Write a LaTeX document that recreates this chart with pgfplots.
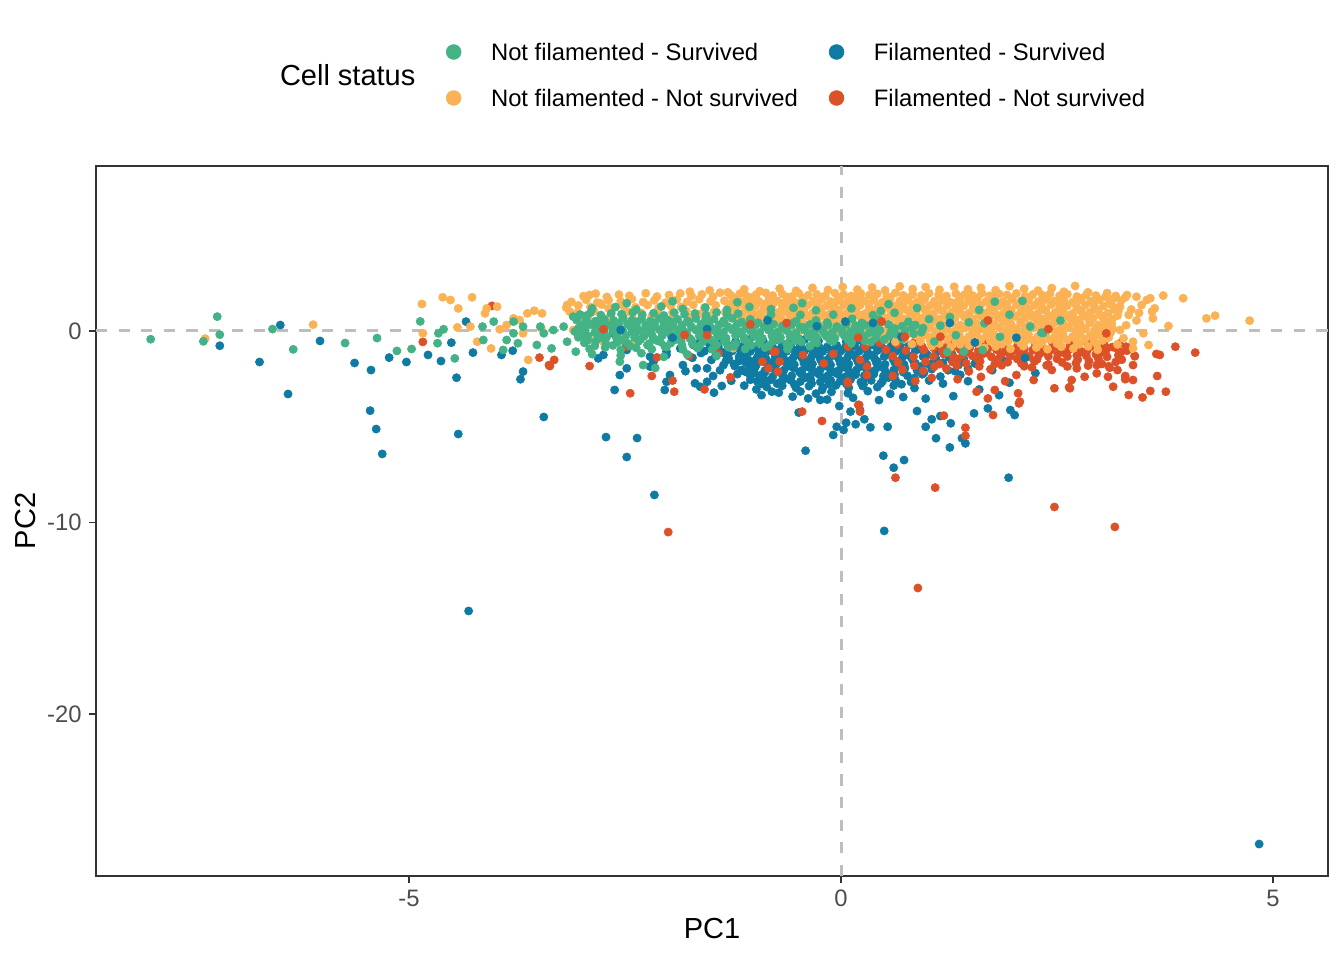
\documentclass[border=0pt]{standalone}
\usepackage{fontspec}
\setmainfont{Liberation Sans}
\usepackage{pgfplots}
\pgfplotsset{compat=1.18}
\definecolor{cgreen}{HTML}{43B284}
\definecolor{corange}{HTML}{FAB255}
\definecolor{cblue}{HTML}{0F7BA2}
\definecolor{cred}{HTML}{DD5129}
\definecolor{tickgray}{HTML}{4D4D4D}
\definecolor{framegray}{HTML}{333333}
\definecolor{dashgray}{HTML}{BEBEBE}
\pgfplotsset{
  dots/.style={only marks, mark=*, mark size=2.05bp, mark options={line width=0.3bp}, forget plot},
}
\begin{document}
\begin{tikzpicture}
\begin{axis}[
  name=ax,
  scale only axis, width=616bp, height=355bp,
  xmin=-8.623, xmax=5.637, ymin=-28.46, ymax=8.616,
  axis line style={framegray, line width=0.7bp},
  xtick={-5,0,5}, xticklabels={-5,0,5},
  ytick={-20,-10,0}, yticklabels={-20,-10,0},
  tick pos=left, tick align=outside, major tick length=3.6bp,
  tick style={framegray, line width=0.7bp},
  /pgf/number format/assume math mode=true,
  ticklabel style={font=\fontsize{11.9bp}{14bp}\selectfont, text=tickgray},
  xticklabel style={inner sep=0pt, anchor=north, yshift=-3.1bp},
  yticklabel style={inner sep=0pt, anchor=east, xshift=-3.4bp},
  xlabel={PC1}, ylabel={PC2},
  xlabel style={at={(axis description cs:0.5,-0.0746)}, anchor=center, inner sep=0pt, font=\fontsize{14.5bp}{17bp}\selectfont},
  ylabel style={at={(axis description cs:-0.0576,0.5)}, anchor=center, inner sep=0pt, font=\fontsize{14.5bp}{17bp}\selectfont},
  legend columns=2, transpose legend, legend cell align=left,
  legend image code/.code={\draw[#1] plot coordinates {(0bp,0bp)};},
  legend style={at={(axis description cs:0.2843,1.1728)}, anchor=north west, draw=none, fill=none,
    inner sep=0pt, outer sep=0pt, row sep=14.3bp, font=\fontsize{11.9bp}{14bp}\selectfont,
    nodes={inner sep=0pt, text height=8.7bp, text depth=0pt},
    /tikz/every odd column/.append style={column sep=15.0bp},
    /tikz/every even column/.append style={column sep=15.6bp}},
]
\addlegendimage{only marks, mark=*, mark size=3.7bp, mark options={line width=0.3bp}, color=cgreen}
\addlegendentry{Not filamented - Survived}
\addlegendimage{only marks, mark=*, mark size=3.7bp, mark options={line width=0.3bp}, color=corange}
\addlegendentry{Not filamented - Not survived}
\addlegendimage{only marks, mark=*, mark size=3.7bp, mark options={line width=0.3bp}, color=cblue}
\addlegendentry{Filamented - Survived}
\addlegendimage{only marks, mark=*, mark size=3.7bp, mark options={line width=0.3bp}, color=cred}
\addlegendentry{Filamented - Not survived}

% reference lines
\addplot[dashgray, line width=1.5bp, dash pattern=on 5.6bp off 5.7bp, forget plot] coordinates {(0,-28.46) (0,8.616)};
\addplot[dashgray, line width=1.5bp, dash pattern=on 5.6bp off 5.7bp, forget plot] coordinates {(-8.623,0) (5.637,0)};

% Filamented - Survived (main)
\addplot[dots, color=cblue] coordinates {
(-7.19,-0.77) (-6.49,0.31) (-6.73,-1.62) (-6.40,-3.29) (-6.03,-0.52) (-5.63,-1.67) (-5.44,-2.04) (-5.45,-4.16) (-5.38,-5.12) (-5.31,-6.42) (-5.23,-1.39) (-5.03,-1.62) (-4.78,-1.25) (-4.63,-1.57) (-4.51,-0.61) (-4.45,-2.44) (-4.34,0.49) (-4.26,-1.13) (-3.93,-1.25) (-3.80,-1.03) (-3.68,-2.12) (-3.71,-2.52) (-4.43,-5.38) (-3.44,-4.49) (-4.31,-14.62)
(-2.72,-5.54) (-2.36,-5.59) (-2.48,-6.58) (-2.16,-8.56) (-0.41,-6.25) (0.50,-10.44) (4.84,-26.79) (1.94,-7.66) (0.49,-6.51) (0.61,-7.14) (0.73,-6.74) (1.26,-6.08) (1.44,-5.87) (1.40,-5.60) (1.54,-4.30) (1.70,-4.04) (1.96,-4.13) (2.01,-4.39) (1.10,-5.60) (0.98,-5.00) (1.05,-4.61) (1.15,-4.44) (1.27,-4.82) (0.88,-4.18) (0.98,-3.53) (0.54,-5.00) (0.34,-5.03) (0.27,-4.61) (0.22,-4.13) (0.17,-4.87) (0.11,-4.21) (0.06,-4.79) (0.03,-5.17) (-0.02,-3.92) (-0.05,-5.00) (-0.09,-5.43) (-0.22,-3.08) (-0.24,-3.60) (-0.49,-4.26) (-0.56,-3.43)
(-2.62,-3.08) (-2.56,-2.30) (-2.81,-1.43) (-2.48,-1.95) (-2.21,-1.86) (-2.17,-1.60) (-2.02,-2.65) (-1.98,-2.30) (-1.83,-1.78) (-1.69,-2.73) (-1.67,-1.95) (-1.63,-2.91) (-1.55,-2.65) (-1.47,-3.22) (-1.38,-2.87) (-1.50,-1.51) (-1.32,-1.25) (-1.17,-0.82) (-1.11,-2.12) (-1.23,-1.83) (-0.90,-2.73) (-0.80,-3.17) (-0.94,-2.39) (-1.03,-1.60) (-2.62,0.14) (-2.48,-0.99) (-2.21,-1.34) (-2.02,-1.25) (-1.86,-0.91) (-1.67,-0.82) (-1.63,-0.56) (-1.52,-0.73) (-2.04,-3.08) (-2.64,-0.12) (-2.02,-1.08) (-1.71,-0.73) (-1.61,-0.47) (-1.48,-0.64) (-1.36,-1.78) (-2.75,-1.25)
(-1.62,-1.15) (-1.55,-1.95) (-1.48,-2.35) (-1.45,-1.30) (-1.40,-2.05) (-1.33,-1.55) (-1.27,-2.60) (-1.20,-2.25) (-1.15,-1.40) (-1.12,-2.85) (-1.05,-2.55) (-0.98,-3.05) (-1.00,-2.20) (-0.92,-3.35) (-1.58,-1.05) (-1.72,-1.40) (-1.80,-2.10)
(-1.38,-0.48) (-1.22,-0.55) (-1.06,-0.45) (-0.90,-0.52) (-0.74,-0.47) (-0.58,-0.56) (-0.42,-0.44) (-0.26,-0.53) (-0.10,-0.46) (0.06,-0.55) (0.22,-0.47) (0.38,-0.52) (0.55,-0.44) (0.72,-0.56) (0.90,-0.49)
(-1.42,-0.83) (-1.31,-0.76) (-1.21,-0.87) (-1.10,-0.78) (-1.00,-0.84) (-0.89,-0.73) (-0.79,-0.86) (-0.68,-0.77) (-0.58,-0.82) (-0.47,-0.74) (-0.37,-0.87) (-0.26,-0.78) (-0.16,-0.83) (-0.05,-0.75) (0.05,-0.86) (0.16,-0.77) (0.26,-0.84) (0.37,-0.73) (0.47,-0.85) (0.58,-0.79) (0.68,-0.83) (0.79,-0.74) (0.92,-0.87) (1.06,-0.78)
(-1.30,-0.97) (-1.10,-0.95) (-0.90,-0.99) (-0.70,-0.94) (-0.50,-0.98) (-0.30,-0.95) (-0.10,-0.99) (0.10,-0.94) (0.30,-0.98) (0.50,-0.95) (0.70,-0.99) (0.92,-0.95)
(-1.37,-1.12) (-1.26,-1.05) (-1.16,-1.16) (-1.05,-1.07) (-0.95,-1.13) (-0.84,-1.02) (-0.74,-1.15) (-0.63,-1.06) (-0.53,-1.11) (-0.42,-1.03) (-0.32,-1.16) (-0.21,-1.07) (-0.11,-1.12) (0.00,-1.04) (0.10,-1.15) (0.21,-1.06) (0.31,-1.13) (0.42,-1.02) (0.52,-1.14) (0.63,-1.08) (0.73,-1.12) (0.86,-1.03) (0.98,-1.16) (1.12,-1.07) (1.28,-1.14)
(-1.12,-1.25) (-0.90,-1.28) (-0.69,-1.22) (-0.48,-1.27) (-0.27,-1.23) (-0.06,-1.29) (0.15,-1.24) (0.36,-1.28) (0.57,-1.22) (0.78,-1.27) (1.00,-1.25)
(-1.30,-1.43) (-1.18,-1.36) (-1.08,-1.47) (-0.97,-1.38) (-0.87,-1.44) (-0.76,-1.33) (-0.66,-1.46) (-0.55,-1.37) (-0.45,-1.42) (-0.34,-1.34) (-0.24,-1.47) (-0.13,-1.38) (-0.03,-1.43) (0.08,-1.35) (0.18,-1.46) (0.29,-1.37) (0.39,-1.44) (0.50,-1.33) (0.60,-1.45) (0.71,-1.39) (0.82,-1.42) (0.95,-1.34) (1.10,-1.47) (1.25,-1.38) (1.42,-1.44)
(-1.18,-1.57) (-0.98,-1.55) (-0.78,-1.59) (-0.58,-1.54) (-0.38,-1.58) (-0.18,-1.55) (0.02,-1.59) (0.22,-1.54) (0.42,-1.58) (0.62,-1.55) (0.84,-1.59) (1.08,-1.56)
(-1.24,-1.72) (-1.10,-1.66) (-0.98,-1.77) (-0.86,-1.68) (-0.75,-1.74) (-0.64,-1.63) (-0.54,-1.76) (-0.43,-1.67) (-0.33,-1.72) (-0.22,-1.64) (-0.12,-1.77) (-0.01,-1.68) (0.09,-1.73) (0.20,-1.65) (0.30,-1.76) (0.41,-1.67) (0.51,-1.74) (0.62,-1.63) (0.73,-1.75) (0.86,-1.69) (1.01,-1.72) (1.18,-1.66) (1.36,-1.78) (1.55,-1.70)
(-1.05,-1.85) (-0.82,-1.88) (-0.60,-1.83) (-0.39,-1.87) (-0.18,-1.82) (0.03,-1.88) (0.24,-1.84) (0.45,-1.87) (0.67,-1.82) (0.92,-1.86)
(-1.15,-2.03) (-1.00,-1.96) (-0.88,-2.07) (-0.77,-1.98) (-0.66,-2.04) (-0.55,-1.93) (-0.45,-2.06) (-0.34,-1.97) (-0.24,-2.02) (-0.13,-1.94) (-0.03,-2.07) (0.08,-1.98) (0.18,-2.03) (0.29,-1.95) (0.39,-2.06) (0.50,-1.97) (0.61,-2.04) (0.74,-1.94) (0.88,-2.06) (1.05,-1.99) (1.24,-2.05) (1.47,-1.97)
(-1.08,-2.17) (-0.88,-2.15) (-0.68,-2.19) (-0.48,-2.14) (-0.28,-2.18) (-0.08,-2.15) (0.12,-2.19) (0.32,-2.14) (0.52,-2.18) (0.72,-2.15) (0.96,-2.19)
(-1.05,-2.32) (-0.91,-2.26) (-0.79,-2.37) (-0.68,-2.28) (-0.57,-2.34) (-0.46,-2.23) (-0.36,-2.36) (-0.25,-2.27) (-0.15,-2.32) (-0.04,-2.24) (0.06,-2.37) (0.17,-2.28) (0.27,-2.33) (0.38,-2.25) (0.49,-2.36) (0.62,-2.27) (0.77,-2.34) (0.94,-2.26) (1.15,-2.38) (1.38,-2.29)
(-0.90,-2.45) (-0.64,-2.48) (-0.41,-2.43) (-0.19,-2.47) (0.04,-2.44) (0.28,-2.48) (0.55,-2.43) (0.85,-2.46)
(-0.97,-2.63) (-0.82,-2.56) (-0.70,-2.67) (-0.58,-2.58) (-0.47,-2.64) (-0.35,-2.53) (-0.24,-2.66) (-0.12,-2.57) (-0.01,-2.62) (0.11,-2.54) (0.23,-2.67) (0.35,-2.58) (0.48,-2.63) (0.63,-2.55) (0.81,-2.66) (1.02,-2.59)
(-0.92,-2.77) (-0.74,-2.75) (-0.54,-2.79) (-0.34,-2.74) (-0.14,-2.78) (0.06,-2.75) (0.26,-2.79) (0.46,-2.74) (0.70,-2.78)
(-0.86,-2.92) (-0.68,-2.86) (-0.52,-2.97) (-0.37,-2.88) (-0.21,-2.95) (-0.06,-2.84) (0.09,-2.96) (0.25,-2.87) (0.42,-2.93) (0.61,-2.85) (0.85,-2.98)
(-0.72,-3.22) (-0.47,-3.16) (-0.29,-3.27) (-0.11,-3.18) (0.08,-3.25) (0.31,-3.14) (0.57,-3.28)
(-0.38,-3.52) (-0.16,-3.58) (0.14,-3.49) (0.44,-3.61) (0.72,-3.45)
(1.18,-2.75) (1.32,-2.10) (1.47,-2.62) (1.60,-1.35) (1.75,-2.05) (1.88,-1.55) (1.60,-3.05) (1.83,-3.35) (1.30,-3.40) (2.12,-1.80) (1.25,-0.85) (1.45,-1.05) (1.95,-2.70) (2.25,-2.20)
};

% Filamented - Not survived (main)
\addplot[dots, color=cred] coordinates {
(-4.84,-0.57) (-4.04,1.31) (-3.38,-1.78) (-3.49,-1.39) (-3.32,-1.51) (-3.37,-1.83) (-2.91,-1.83) (-2.44,-3.25) (-2.19,-2.35) (-1.93,-3.17) (-1.95,-2.59) (-1.58,-3.05) (-1.28,-2.42) (-2.49,-0.82) (-2.00,-10.50) (-0.45,-4.21) (-0.22,-4.70) (0.21,-3.86) (0.63,-7.66) (1.09,-8.18) (0.89,-13.42) (2.47,-9.19) (3.17,-10.23) (1.19,-4.42) (1.44,-5.05) (1.44,-5.47) (0.86,-2.61) (1.76,-4.39) (1.70,-3.52) (1.78,-3.08) (1.57,-3.17) (2.07,-3.69) (2.05,-3.25)
(-2.13,-1.38) (-1.76,-1.31) (-1.42,-1.17) (-0.84,-1.95) (-0.73,-2.12) (-0.76,-1.08) (-0.09,-1.20) (0.08,-2.65) (-0.71,-1.60) (-0.91,-1.60) (-0.78,-1.08) (0.08,-0.82) (0.08,-2.73) (0.28,-0.82) (-0.20,-1.69) (0.22,-1.51) (0.30,-1.86) (0.30,-2.30) (0.20,-3.86) (0.22,-4.21) (-0.44,-1.25)
(0.45,-0.62) (0.65,-0.70) (0.85,-0.58) (1.05,-0.68) (1.25,-0.60) (1.45,-0.72) (1.65,-0.63) (1.85,-0.70) (2.05,-0.60) (2.25,-0.73) (2.45,-0.64) (2.65,-0.71) (2.85,-0.62) (3.05,-0.74) (3.22,-0.66)
(0.94,-0.82) (1.16,-0.80) (1.38,-0.84) (1.60,-0.79) (1.82,-0.83) (2.04,-0.80) (2.26,-0.84) (2.48,-0.79) (2.70,-0.83) (2.92,-0.80) (3.14,-0.84)
(0.52,-0.98) (0.75,-1.02) (0.96,-0.99) (1.07,-0.88) (1.17,-1.01) (1.28,-0.92) (1.38,-0.97) (1.49,-0.89) (1.59,-1.02) (1.70,-0.93) (1.80,-0.98) (1.91,-0.90) (2.01,-1.01) (2.12,-0.92) (2.22,-0.99) (2.33,-0.88) (2.43,-1.00) (2.54,-0.94) (2.64,-0.97) (2.75,-0.89) (2.85,-1.02) (2.96,-0.93) (3.07,-0.99) (3.19,-0.91) (3.31,-1.03)
(1.24,-1.12) (1.46,-1.10) (1.68,-1.14) (1.90,-1.08) (2.12,-1.13) (2.35,-1.09) (2.57,-1.12) (2.79,-1.10) (3.01,-1.13) (3.24,-1.10)
(0.60,-1.31) (0.84,-1.35) (1.07,-1.32) (1.19,-1.21) (1.30,-1.34) (1.41,-1.25) (1.52,-1.30) (1.63,-1.22) (1.74,-1.35) (1.85,-1.26) (1.96,-1.31) (2.07,-1.23) (2.18,-1.34) (2.29,-1.25) (2.40,-1.32) (2.51,-1.21) (2.62,-1.33) (2.73,-1.27) (2.84,-1.30) (2.95,-1.22) (3.08,-1.35) (3.21,-1.27) (3.40,-1.31)
(1.35,-1.47) (1.58,-1.45) (1.81,-1.49) (2.04,-1.46) (2.27,-1.48) (2.50,-1.45) (2.74,-1.49) (2.98,-1.46) (3.25,-1.50)
(0.66,-1.64) (0.98,-1.60) (1.14,-1.73) (1.29,-1.62) (1.45,-1.69) (1.61,-1.58) (1.78,-1.72) (1.93,-1.63) (2.09,-1.70) (2.24,-1.59) (2.40,-1.74) (2.56,-1.64) (2.72,-1.68) (2.87,-1.57) (3.02,-1.72) (3.18,-1.62) (3.38,-1.78)
(0.85,-1.82) (1.08,-1.86) (1.34,-1.80) (1.60,-1.85) (1.86,-1.79) (2.12,-1.84) (2.38,-1.80) (2.62,-1.85) (2.86,-1.81) (3.10,-1.84)
(0.71,-2.02) (0.95,-2.08) (1.22,-1.96) (1.48,-2.11) (1.73,-2.00) (2.21,-1.90) (2.44,-2.04) (2.73,-1.95) (2.96,-1.78) (3.20,-2.04) (2.03,-2.30) (2.23,-2.56)
(0.60,-2.35) (1.05,-2.45) (1.35,-2.52) (1.62,-2.40) (1.90,-2.62) (2.82,-2.39) (2.67,-2.56) (2.96,-2.21) (3.09,-2.39) (3.29,-2.35) (3.38,-2.56) (3.66,-2.35)
(2.64,-2.94) (2.47,-2.99) (3.15,-2.91) (3.33,-3.34) (3.49,-3.47) (3.58,-3.13) (3.76,-3.17) (2.06,-3.78) (3.87,-0.82) (4.10,-1.13) (3.65,-1.20) (3.30,-0.82) (3.40,-1.31) (3.69,-1.25) (3.29,-2.52) (3.11,-1.92) (2.65,-2.99)
};

% Not filamented - Not survived
\addplot[dots, color=corange] coordinates {
(-7.36,-0.40) (-6.11,0.33) (-4.85,1.41) (-4.61,1.76) (-4.52,1.62) (-4.43,1.18) (-4.27,1.76) (-4.84,-0.12) (-4.44,0.19) (-4.29,0.23) (-4.21,-0.56) (-4.05,-0.91) (-4.12,0.92) (-4.10,1.18) (-3.98,1.27) (-3.95,0.09) (-3.87,0.31) (-3.79,0.66) (-3.72,0.57) (-3.63,0.92) (-3.55,1.06) (-3.46,0.92) (-3.62,-1.51) (-3.68,-0.12) (-3.17,1.36) (-3.14,1.01) (-3.10,0.05) (-2.91,1.88) (-3.00,0.75) (-2.79,1.45) (-2.69,1.18) (-2.75,-0.56)
(-2.98,1.82) (-2.84,1.95) (-2.71,1.78) (-2.57,1.90) (-2.45,1.84) (-2.26,1.97) (-2.13,1.80) (-1.99,1.88) (-1.86,1.96) (-1.73,1.83) (-1.61,1.91) (-1.48,1.79) (-1.40,2.00)
(-3.12,1.52) (-2.95,1.63) (-2.82,1.49) (-2.69,1.61) (-2.55,1.55) (-2.42,1.67) (-2.29,1.51) (-2.16,1.60) (-2.03,1.48) (-1.90,1.64) (-1.78,1.53) (-1.64,1.66) (-1.51,1.55)
(-3.18,1.22) (-3.04,1.33) (-2.90,1.25) (-2.77,1.38) (-2.64,1.21) (-2.52,1.31) (-2.38,1.24) (-2.24,1.36) (-2.11,1.20) (-1.97,1.32) (-1.85,1.26) (-1.71,1.37) (-1.58,1.23) (-1.45,1.34)
(-3.05,0.95) (-2.86,1.04) (-2.66,0.92) (-2.47,1.01) (-2.31,0.94) (-2.12,1.06) (-1.95,0.97) (-1.79,1.03) (-1.62,0.91) (-1.47,1.02)
(-2.93,0.66) (-2.68,0.72) (-2.41,0.62) (-2.19,0.75) (-1.96,0.64) (-1.72,0.71) (-1.52,0.60)
(-2.58,0.25) (-2.21,0.08) (-1.88,-0.15) (-1.62,0.31) (-1.25,-0.90) (-1.05,0.05) (-2.83,-0.35) (-2.40,-0.62) (-3.47,0.15)
(-1.75,2.05) (-1.52,2.12) (-1.31,2.02) (-1.12,2.18) (-0.94,2.08) (-0.71,2.21) (-0.52,2.10) (-0.33,2.25) (-0.15,2.14) (0.02,2.30) (0.19,2.16) (0.36,2.27) (0.51,2.12) (0.68,2.33) (0.83,2.19) (0.98,2.29) (1.14,2.15) (1.31,2.31) (1.47,2.18) (1.62,2.26) (1.79,2.13) (1.95,2.34) (2.12,2.20) (2.28,2.11) (2.44,2.24) (2.71,2.35) (2.58,2.05) (2.86,2.02) (3.08,1.98)
(-1.28,1.88) (-1.17,1.95) (-1.09,1.82) (-0.98,1.91) (-0.87,1.99) (-0.79,1.85) (-0.68,1.93) (-0.57,1.80) (-0.49,1.97) (-0.38,1.87) (-0.28,1.92) (-0.18,1.84) (-0.07,1.98) (0.03,1.90) (0.12,1.83) (0.23,1.96) (0.33,1.88) (0.42,1.94) (0.53,1.81) (0.63,1.99) (0.72,1.86) (0.83,1.92) (0.93,1.85) (1.02,1.97) (1.13,1.89) (1.22,1.83) (1.33,1.95) (1.43,1.90) (1.52,1.86) (1.63,1.98) (1.72,1.84) (1.83,1.93) (1.92,1.88) (2.03,1.96) (2.13,1.82) (2.22,1.91) (2.33,1.87) (2.42,1.95) (2.53,1.84) (2.62,1.92) (2.73,1.80) (2.84,1.89) (2.95,1.85) (3.06,1.78) (3.18,1.83) (3.29,1.75)
(-1.22,1.74) (-1.02,1.77) (-0.83,1.73) (-0.62,1.78) (-0.43,1.72) (-0.22,1.76) (-0.03,1.74) (0.18,1.78) (0.38,1.72) (0.57,1.77) (0.78,1.73) (0.97,1.76) (1.18,1.71) (1.37,1.78) (1.58,1.74) (1.77,1.76) (1.98,1.72) (2.18,1.77) (2.37,1.73) (2.58,1.76) (2.78,1.71) (2.97,1.68)
(-1.35,1.58) (-1.24,1.66) (-1.15,1.52) (-1.04,1.63) (-0.95,1.55) (-0.83,1.68) (-0.74,1.57) (-0.62,1.62) (-0.53,1.50) (-0.44,1.65) (-0.32,1.56) (-0.22,1.69) (-0.12,1.54) (-0.02,1.61) (0.08,1.52) (0.18,1.67) (0.27,1.58) (0.38,1.63) (0.48,1.51) (0.57,1.66) (0.68,1.57) (0.77,1.62) (0.88,1.53) (0.97,1.68) (1.08,1.56) (1.18,1.61) (1.27,1.50) (1.38,1.65) (1.48,1.58) (1.57,1.69) (1.68,1.55) (1.78,1.62) (1.87,1.52) (1.98,1.66) (2.08,1.57) (2.17,1.63) (2.28,1.53) (2.38,1.67) (2.47,1.56) (2.58,1.61) (2.68,1.51) (2.78,1.64) (2.89,1.55) (2.99,1.62) (3.11,1.50) (3.24,1.58)
(-1.28,1.43) (-1.07,1.46) (-0.88,1.42) (-0.67,1.47) (-0.48,1.41) (-0.27,1.45) (-0.08,1.43) (0.13,1.47) (0.32,1.41) (0.53,1.46) (0.72,1.42) (0.93,1.45) (1.12,1.40) (1.33,1.47) (1.52,1.43) (1.73,1.45) (1.92,1.41) (2.13,1.46) (2.32,1.42) (2.53,1.45) (2.72,1.40) (2.93,1.44) (3.13,1.38)
(-1.30,1.28) (-1.19,1.35) (-1.10,1.22) (-0.99,1.31) (-0.89,1.25) (-0.79,1.38) (-0.68,1.27) (-0.59,1.33) (-0.48,1.21) (-0.38,1.36) (-0.28,1.26) (-0.17,1.32) (-0.08,1.24) (0.03,1.37) (0.13,1.27) (0.22,1.34) (0.33,1.22) (0.43,1.36) (0.52,1.28) (0.63,1.31) (0.72,1.23) (0.83,1.38) (0.92,1.26) (1.03,1.33) (1.12,1.21) (1.23,1.35) (1.33,1.27) (1.42,1.32) (1.53,1.24) (1.62,1.37) (1.73,1.26) (1.83,1.31) (1.92,1.22) (2.03,1.36) (2.12,1.28) (2.23,1.33) (2.32,1.23) (2.43,1.37) (2.53,1.27) (2.62,1.32) (2.73,1.21) (2.83,1.35) (2.93,1.26) (3.04,1.30) (3.16,1.24)
(-1.24,1.11) (-1.03,1.14) (-0.84,1.10) (-0.63,1.15) (-0.44,1.09) (-0.23,1.13) (-0.04,1.11) (0.17,1.15) (0.36,1.09) (0.57,1.14) (0.76,1.10) (0.97,1.13) (1.16,1.08) (1.37,1.15) (1.56,1.11) (1.77,1.13) (1.96,1.09) (2.17,1.14) (2.36,1.10) (2.57,1.13) (2.76,1.08) (2.97,1.12) (3.17,1.10)
(-1.34,0.98) (-1.25,1.05) (-1.14,0.93) (-1.05,1.02) (-0.93,0.96) (-0.84,1.08) (-0.73,0.97) (-0.64,1.03) (-0.53,0.91) (-0.43,1.06) (-0.33,0.95) (-0.23,1.02) (-0.12,0.93) (-0.03,1.07) (0.07,0.97) (0.17,1.04) (0.28,0.92) (0.37,1.06) (0.47,0.98) (0.58,1.01) (0.67,0.93) (0.78,1.08) (0.87,0.96) (0.98,1.03) (1.07,0.91) (1.18,1.05) (1.28,0.97) (1.37,1.02) (1.48,0.94) (1.57,1.07) (1.68,0.96) (1.77,1.01) (1.88,0.92) (1.97,1.06) (2.08,0.98) (2.17,1.03) (2.28,0.93) (2.37,1.07) (2.48,0.97) (2.57,1.02) (2.68,0.91) (2.78,1.05) (2.88,0.96) (2.98,1.00) (3.09,0.94) (3.21,1.03)
(-1.20,0.81) (-0.99,0.84) (-0.80,0.80) (-0.59,0.85) (-0.40,0.79) (-0.19,0.83) (0.00,0.81) (0.21,0.85) (0.40,0.79) (0.61,0.84) (0.80,0.80) (1.01,0.83) (1.20,0.78) (1.41,0.85) (1.60,0.81) (1.81,0.83) (2.00,0.79) (2.21,0.84) (2.40,0.80) (2.61,0.83) (2.80,0.78) (3.01,0.82) (3.20,0.80)
(-1.29,0.68) (-1.18,0.74) (-1.09,0.62) (-0.98,0.71) (-0.88,0.65) (-0.78,0.78) (-0.69,0.66) (-0.58,0.73) (-0.47,0.61) (-0.37,0.76) (-0.27,0.66) (-0.18,0.72) (-0.07,0.63) (0.02,0.77) (0.12,0.67) (0.23,0.74) (0.32,0.62) (0.42,0.76) (0.53,0.68) (0.62,0.71) (0.73,0.63) (0.82,0.78) (0.93,0.66) (1.02,0.73) (1.13,0.61) (1.22,0.75) (1.32,0.67) (1.43,0.72) (1.52,0.64) (1.63,0.77) (1.72,0.66) (1.82,0.71) (1.93,0.62) (2.02,0.76) (2.13,0.68) (2.22,0.73) (2.33,0.63) (2.42,0.77) (2.52,0.67) (2.63,0.72) (2.72,0.61) (2.83,0.75) (2.92,0.66) (3.03,0.70) (3.14,0.62)
(-1.12,0.51) (-0.91,0.54) (-0.72,0.50) (-0.51,0.55) (-0.32,0.49) (-0.11,0.53) (0.08,0.51) (0.29,0.55) (0.48,0.49) (0.69,0.54) (0.88,0.50) (1.09,0.53) (1.28,0.48) (1.49,0.55) (1.68,0.51) (1.89,0.53) (2.08,0.49) (2.29,0.54) (2.48,0.50) (2.69,0.53) (2.88,0.48) (3.06,0.52)
(-1.02,0.38) (-0.92,0.44) (-0.83,0.32) (-0.72,0.41) (-0.63,0.35) (-0.52,0.48) (-0.42,0.36) (-0.33,0.43) (-0.22,0.31) (-0.13,0.46) (-0.02,0.36) (0.08,0.42) (0.17,0.33) (0.28,0.47) (0.38,0.37) (0.47,0.44) (0.58,0.32) (0.67,0.46) (0.78,0.38) (0.87,0.41) (0.98,0.33) (1.08,0.48) (1.17,0.36) (1.28,0.43) (1.38,0.31) (1.47,0.45) (1.58,0.37) (1.67,0.42) (1.78,0.34) (1.88,0.47) (1.97,0.36) (2.08,0.41) (2.18,0.32) (2.27,0.46) (2.38,0.38) (2.47,0.43) (2.58,0.33) (2.68,0.47) (2.77,0.37) (2.88,0.42) (2.98,0.31) (3.09,0.44)
(-0.85,0.21) (-0.64,0.24) (-0.45,0.20) (-0.24,0.25) (-0.05,0.19) (0.16,0.23) (0.35,0.21) (0.56,0.25) (0.75,0.19) (0.96,0.24) (1.15,0.20) (1.36,0.23) (1.55,0.18) (1.76,0.25) (1.95,0.21) (2.16,0.23) (2.35,0.19) (2.56,0.24) (2.75,0.20) (2.96,0.23) (3.14,0.18)
(-0.68,0.08) (-0.58,0.14) (-0.47,0.02) (-0.38,0.11) (-0.27,0.05) (-0.18,0.18) (-0.08,0.06) (0.03,0.13) (0.12,0.01) (0.23,0.16) (0.32,0.06) (0.43,0.12) (0.52,0.03) (0.63,0.17) (0.72,0.07) (0.83,0.11) (0.92,0.02) (1.03,0.16) (1.12,0.06) (1.23,0.13) (1.32,0.01) (1.43,0.15) (1.52,0.07) (1.63,0.12) (1.72,0.04) (1.83,0.17) (1.92,0.06) (2.03,0.11) (2.12,0.02) (2.23,0.16) (2.32,0.08) (2.43,0.13) (2.52,0.03) (2.63,0.17) (2.72,0.07) (2.83,0.12) (2.93,0.01) (3.04,0.14)
(-0.50,-0.07) (-0.28,-0.05) (-0.06,-0.09) (0.14,-0.05) (0.34,-0.10) (0.54,-0.06) (0.74,-0.08) (0.94,-0.04) (1.14,-0.10) (1.34,-0.05) (1.54,-0.09) (1.74,-0.06) (1.94,-0.11) (2.14,-0.04) (2.34,-0.08) (2.54,-0.05) (2.74,-0.10) (2.94,-0.06) (3.12,-0.09)
(-0.32,-0.22) (-0.13,-0.16) (0.07,-0.28) (0.17,-0.19) (0.27,-0.25) (0.38,-0.12) (0.47,-0.24) (0.58,-0.17) (0.67,-0.29) (0.78,-0.14) (0.87,-0.24) (0.98,-0.18) (1.07,-0.27) (1.18,-0.13) (1.28,-0.23) (1.37,-0.17) (1.48,-0.28) (1.57,-0.15) (1.68,-0.24) (1.77,-0.19) (1.88,-0.26) (1.97,-0.13) (2.08,-0.24) (2.17,-0.18) (2.28,-0.27) (2.37,-0.14) (2.48,-0.23) (2.57,-0.17) (2.68,-0.29) (2.77,-0.15) (2.88,-0.24) (2.98,-0.18) (3.08,-0.21)
(0.12,-0.37) (0.32,-0.34) (0.52,-0.38) (0.72,-0.35) (0.92,-0.39) (1.12,-0.33) (1.32,-0.37) (1.52,-0.34) (1.72,-0.39) (1.92,-0.35) (2.12,-0.37) (2.32,-0.33) (2.52,-0.38) (2.72,-0.35) (2.92,-0.39) (3.10,-0.34)
(0.32,-0.52) (0.52,-0.46) (0.63,-0.57) (0.73,-0.44) (0.92,-0.55) (1.03,-0.48) (1.12,-0.59) (1.23,-0.45) (1.33,-0.54) (1.42,-0.47) (1.53,-0.58) (1.62,-0.44) (1.73,-0.53) (1.82,-0.49) (1.93,-0.57) (2.02,-0.43) (2.13,-0.54) (2.22,-0.48) (2.33,-0.59) (2.42,-0.45) (2.53,-0.53) (2.62,-0.47) (2.73,-0.56) (2.82,-0.44) (2.93,-0.55) (3.03,-0.49)
(0.82,-0.68) (1.14,-0.65) (1.38,-0.70) (1.58,-0.66) (1.86,-0.69) (2.08,-0.64) (2.30,-0.70) (2.50,-0.66) (2.76,-0.69) (2.96,-0.67)
(1.05,-0.78) (1.27,-0.84) (1.48,-0.76) (1.66,-0.88) (1.79,-0.81) (1.96,-0.93) (2.11,-0.79) (2.26,-0.86) (2.39,-0.95) (2.55,-0.82) (2.69,-0.91) (2.86,-0.80) (2.97,-0.98)
(3.31,1.88) (3.42,1.79) (3.58,1.71) (3.54,1.62) (3.73,1.85) (3.96,1.71) (3.48,1.36) (3.63,1.18) (3.23,1.27) (3.36,1.12) (3.60,1.01) (3.33,0.84) (3.42,0.55) (3.61,0.66) (3.13,0.40) (3.23,0.05) (3.27,-0.38) (3.50,-0.12) (3.56,-0.73) (3.38,-0.56) (3.38,-0.91) (3.79,0.26) (4.23,0.66) (4.33,0.80) (4.73,0.54) (3.20,-0.70) (3.15,1.68) (3.45,0.95) (3.30,0.30)
};

% Not filamented - Survived
\addplot[dots, color=cgreen] coordinates {
(-7.99,-0.43) (-7.38,-0.54) (-7.22,0.75) (-7.19,-0.19) (-6.58,0.10) (-6.34,-0.96) (-5.74,-0.63) (-5.37,-0.37) (-5.14,-1.04) (-4.97,-0.94) (-4.87,0.50) (-4.66,-0.12) (-4.67,-0.64) (-4.47,-1.43) (-4.60,0.09) (-4.15,0.23) (-4.14,-0.47) (-4.02,0.49) (-3.87,-0.47) (-3.79,-0.12) (-3.74,-0.64) (-3.79,0.49) (-3.91,-0.99) (-3.68,0.23) (-3.48,0.23) (-3.44,-0.12) (-3.52,-0.73) (-3.35,-0.91) (-3.33,0.05) (-3.21,0.23) (-3.17,-0.56) (-3.10,0.75) (-3.07,-1.08) (-3.00,-0.30) (-2.95,0.80)
(-2.88,1.18) (-2.61,1.25) (-2.37,1.12) (-2.08,1.28) (-1.83,1.15) (-1.57,1.22) (-1.32,1.10) (-1.06,1.26) (-0.81,1.14) (-0.55,1.21) (-0.29,1.08) (0.12,1.18) (0.46,1.05)
(-3.02,0.86) (-2.90,0.95) (-2.78,0.83) (-2.66,0.92) (-2.54,0.88) (-2.41,0.97) (-2.30,0.84) (-2.17,0.93) (-2.05,0.81) (-1.93,0.96) (-1.81,0.87) (-1.69,0.92) (-1.56,0.83) (-1.44,0.97) (-1.32,0.86) (-1.19,0.91) (-0.81,0.86) (-0.47,0.84) (-0.09,0.85) (0.37,0.83)
(-3.06,0.57) (-2.95,0.64) (-2.84,0.52) (-2.74,0.61) (-2.63,0.55) (-2.52,0.67) (-2.42,0.56) (-2.31,0.62) (-2.21,0.51) (-2.10,0.66) (-2.00,0.55) (-1.89,0.61) (-1.78,0.52) (-1.68,0.65) (-1.57,0.57) (-1.47,0.62) (-1.36,0.53) (-1.26,0.66) (-1.05,0.61) (-0.84,0.65) (-0.52,0.51) (-0.29,0.55) (0.13,0.64) (0.44,0.61)
(-2.96,0.44) (-2.76,0.47) (-2.57,0.43) (-2.36,0.48) (-2.16,0.42) (-1.95,0.46) (-1.76,0.44) (-1.55,0.48) (-1.36,0.42) (-1.15,0.47) (-0.96,0.43) (-0.56,0.41) (-0.16,0.44) (0.24,0.42)
(-3.01,0.27) (-2.90,0.34) (-2.79,0.22) (-2.69,0.31) (-2.58,0.25) (-2.47,0.37) (-2.37,0.26) (-2.26,0.32) (-2.15,0.21) (-2.05,0.36) (-1.94,0.25) (-1.84,0.31) (-1.73,0.22) (-1.62,0.35) (-1.52,0.27) (-1.41,0.32) (-1.31,0.23) (-1.20,0.36) (-1.10,0.26) (-0.99,0.31) (-0.89,0.22) (-0.78,0.35) (-0.68,0.26) (-0.57,0.32) (-0.47,0.21) (-0.36,0.34) (-0.26,0.25) (-0.15,0.32) (-0.05,0.23) (0.06,0.35) (0.17,0.26) (0.28,0.31) (0.41,0.22) (0.55,0.34) (0.71,0.25) (0.86,0.31)
(-3.04,0.14) (-2.84,0.17) (-2.64,0.13) (-2.43,0.18) (-2.24,0.12) (-2.03,0.16) (-1.84,0.14) (-1.63,0.18) (-1.44,0.12) (-1.23,0.17) (-1.04,0.13) (-0.83,0.16) (-0.64,0.11) (-0.43,0.18) (-0.24,0.14) (-0.03,0.16) (0.16,0.12) (0.37,0.17) (0.62,0.13) (0.82,0.16)
(-3.08,-0.03) (-2.96,0.04) (-2.85,-0.08) (-2.74,0.01) (-2.63,-0.05) (-2.53,0.07) (-2.42,-0.04) (-2.32,0.02) (-2.21,-0.09) (-2.10,0.06) (-2.00,-0.05) (-1.89,0.01) (-1.79,-0.08) (-1.68,0.05) (-1.58,-0.03) (-1.47,0.02) (-1.36,-0.07) (-1.26,0.06) (-1.15,-0.04) (-1.05,0.01) (-0.94,-0.08) (-0.84,0.05) (-0.73,-0.04) (-0.63,0.02) (-0.52,-0.09) (-0.42,0.04) (-0.31,-0.05) (-0.21,0.02) (-0.10,-0.07) (0.01,0.05) (0.11,-0.04) (0.22,0.01) (0.33,-0.08) (0.45,0.04) (0.58,-0.05) (0.74,0.02) (0.93,-0.06)
(-2.99,-0.16) (-2.79,-0.13) (-2.59,-0.17) (-2.38,-0.12) (-2.19,-0.18) (-1.98,-0.14) (-1.79,-0.16) (-1.58,-0.12) (-1.39,-0.18) (-1.18,-0.13) (-0.99,-0.17) (-0.78,-0.14) (-0.59,-0.19) (-0.38,-0.12) (-0.19,-0.16) (0.02,-0.14) (0.21,-0.18) (0.42,-0.13) (0.64,-0.17)
(-3.04,-0.33) (-2.93,-0.26) (-2.81,-0.38) (-2.71,-0.29) (-2.60,-0.35) (-2.49,-0.23) (-2.39,-0.34) (-2.28,-0.28) (-2.17,-0.39) (-2.07,-0.24) (-1.96,-0.35) (-1.86,-0.29) (-1.75,-0.38) (-1.64,-0.25) (-1.54,-0.33) (-1.43,-0.28) (-1.33,-0.37) (-1.22,-0.24) (-1.12,-0.34) (-1.01,-0.29) (-0.91,-0.38) (-0.80,-0.25) (-0.70,-0.34) (-0.59,-0.28) (-0.49,-0.39) (-0.38,-0.26) (-0.28,-0.35) (-0.17,-0.28) (-0.07,-0.37) (0.04,-0.25) (0.15,-0.34) (0.27,-0.29) (0.40,-0.37) (0.56,-0.26) (0.72,-0.33)
(-2.93,-0.48) (-2.73,-0.45) (-2.53,-0.49) (-2.32,-0.44) (-2.13,-0.50) (-1.92,-0.46) (-1.73,-0.48) (-1.52,-0.44) (-1.33,-0.50) (-1.12,-0.45) (-0.93,-0.49) (-0.72,-0.46) (-0.53,-0.51) (-0.32,-0.44) (-0.13,-0.48) (0.08,-0.46) (0.27,-0.50) (0.50,-0.45)
(-2.97,-0.62) (-2.84,-0.55) (-2.72,-0.67) (-2.59,-0.58) (-2.47,-0.64) (-2.34,-0.53) (-2.22,-0.66) (-2.09,-0.57) (-1.97,-0.63) (-1.85,-0.54) (-1.72,-0.68) (-1.60,-0.56) (-1.47,-0.62) (-1.35,-0.55) (-1.22,-0.66) (-1.08,-0.58) (-0.95,-0.64) (-0.79,-0.55) (-0.63,-0.66) (-0.46,-0.57) (-0.28,-0.63) (-0.09,-0.54) (0.12,-0.65) (0.35,-0.58)
(-2.85,-0.78) (-2.64,-0.75) (-2.44,-0.79) (-2.24,-0.74) (-2.04,-0.80) (-1.84,-0.76) (-1.64,-0.78) (-1.44,-0.74) (-1.24,-0.80) (-1.04,-0.75) (-0.84,-0.79) (-0.60,-0.76) (-0.36,-0.80)
(-2.91,-0.93) (-2.73,-0.86) (-2.55,-0.98) (-2.37,-0.88) (-2.19,-0.95) (-2.02,-0.84) (-1.83,-0.97) (-1.66,-0.89) (-1.49,-0.96) (-1.30,-0.85) (-1.11,-0.94) (-0.88,-0.87) (-0.62,-0.95)
(-2.88,-1.21) (-2.55,-1.28) (-2.31,-1.16) (-2.05,-1.35) (-1.78,-1.22) (-1.44,-1.30) (-2.56,-1.60) (-2.15,-1.93) (-2.29,-1.78)
(0.62,0.95) (0.71,-0.42) (0.78,0.48) (0.84,-0.15) (0.95,0.15) (1.02,0.62) (1.08,-0.55) (1.15,0.28) (1.26,0.73) (1.23,-1.10) (1.33,-0.22) (1.42,-1.08) (1.48,0.45) (1.64,-1.00) (1.66,0.40) (1.78,1.53) (1.84,-0.30) (2.19,0.23) (2.32,-0.09) (1.95,0.85) (2.54,0.55) (0.55,1.40) (0.88,1.20) (1.60,1.10) (-0.45,1.45) (-1.20,1.50) (-1.95,1.55) (-2.48,1.45) (2.10,1.57) (2.34,-0.10)
};

% a few filamented cells drawn over the others
\addplot[dots, color=cblue] coordinates {
(0.05,0.49) (0.37,0.42) (1.26,0.42) (2.03,-0.35) (2.13,-1.41) (-0.28,0.25) (-0.85,0.55) (-1.55,0.10) (0.70,-0.30) (1.55,-0.60) (-2.55,0.05) (-1.95,-0.35)
};
\addplot[dots, color=cred] coordinates {
(0.47,0.49) (-0.63,0.42) (-1.55,-0.21) (-1.81,-0.21) (-2.75,0.09) (3.07,-0.12) (1.15,-0.30) (0.74,-0.30) (2.40,0.10) (1.70,0.55) (-1.05,0.35) (0.20,-0.35)
};
\end{axis}
\node[anchor=west, inner sep=0pt, font=\fontsize{14.5bp}{17bp}\selectfont] at ([xshift=91.8bp, yshift=45.5bp]ax.north west) {Cell status};
\pgfresetboundingbox
\path[use as bounding box] ([xshift=-48bp,yshift=83bp]ax.north west) rectangle ([xshift=8bp,yshift=-42bp]ax.south east);
\end{tikzpicture}
\end{document}
